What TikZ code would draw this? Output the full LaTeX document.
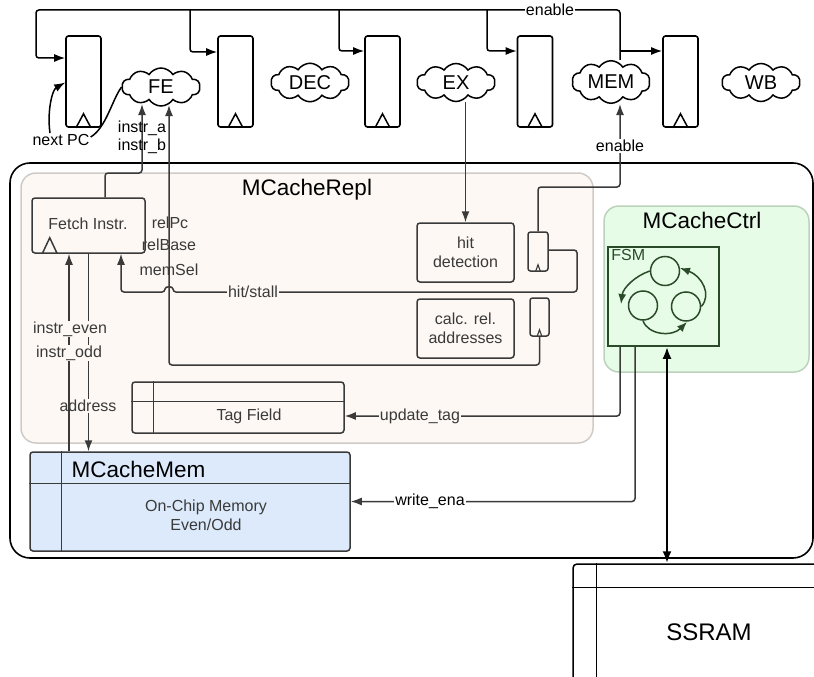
\documentclass[tikz,border=0pt]{standalone}
\usepackage{fontspec}
\setmainfont{Liberation Sans}
\usetikzlibrary{shapes.symbols,arrows.meta,calc}

\definecolor{ink}{HTML}{3A3A3A}
\definecolor{replfill}{HTML}{FDF8F3}
\definecolor{replline}{HTML}{CFCBC6}
\definecolor{ctrlfill}{HTML}{E6FCE6}
\definecolor{ctrlline}{HTML}{BCD2BC}
\definecolor{memfill}{HTML}{DCEAFB}
\definecolor{fsmgreen}{HTML}{2A4A2A}

\tikzset{
  arr/.style={-{Latex[length=11pt,width=8pt]}},
  pipereg/.style={draw, line width=1.6pt, rounded corners=2.5pt, minimum width=35pt,
    minimum height=91pt, inner sep=0pt, fill=white},
  stage/.style={cloud, cloud puffs=10, cloud puff arc=115, aspect=2, draw, line width=1.5pt,
    inner sep=0pt, minimum width=78pt, minimum height=38pt,
    font=\fontsize{20}{24}\selectfont, fill=white},
  wire/.style={line width=1.5pt, rounded corners=3pt},
  iwire/.style={wire, draw=ink},
  lbl/.style={font=\fontsize{16}{18}\selectfont, inner sep=1pt},
  ilbl/.style={lbl, text=ink},
  ttl/.style={font=\fontsize{22.5}{26}\selectfont},
  ibox/.style={draw=ink, line width=1.5pt, rounded corners=3pt, inner sep=0pt, align=center,
    font=\fontsize{16}{19.5}\selectfont, text=ink},
  smallreg/.style={draw=ink, line width=1.5pt, rounded corners=2.5pt, minimum width=20pt,
    minimum height=39pt, inner sep=0pt},
  fsmstate/.style={circle, draw=fsmgreen, line width=1.5pt, minimum size=29pt, inner sep=0pt},
  fsmarc/.style={draw=fsmgreen, line width=1.5pt, -{Latex[length=10pt,width=8pt]}},
}

\begin{document}
\begin{tikzpicture}[x=1pt,y=1pt]
\useasboundingbox (0,0) rectangle (814,-677);
\clip (0,0) rectangle (814,-677);

% ---------- containers ----------
\node[draw, line width=1.6pt, rounded corners=20pt, minimum width=803pt, minimum height=395pt,
  inner sep=0pt] (system) at (411.5,-360.5) {};
\node[draw=replline, fill=replfill, line width=1.5pt, rounded corners=15pt,
  minimum width=572pt, minimum height=270pt, inner sep=0pt] (repl) at (307,-308) {};
\node[ttl] (replT) at (307,-190) {MCacheRepl};
\node[draw=ctrlline, fill=ctrlfill, line width=1.5pt, rounded corners=15pt,
  minimum width=205pt, minimum height=166pt, inner sep=0pt] (ctrl) at (706.5,-289) {};
\node[ttl] (ctrlT) at (702,-220) {MCacheCtrl};

% ---------- pipeline registers and stages ----------
\foreach \n/\x in {reg1/83.5, reg2/235.5, reg3/382.5, reg4/535, reg5/680.5} {
  \node[pipereg] (\n) at (\x,-81.5) {};
  \draw[line width=1.5pt] ([xshift=-7.5pt]\n.south) -- ++(7.5,14) -- ++(7.5,-14);
}
\node[stage] (fe)  at (161,-87)   {FE};
\node[stage] (dec) at (310,-82.5) {DEC};
\node[stage] (ex)  at (456,-82.5) {EX};
\node[stage] (mem) at (611,-82)   {MEM};
\node[stage] (wb)  at (761,-82.5) {WB};

% enable bus across the top
\coordinate (busR) at (620,-10);
\coordinate (busL) at (36,-10);
\draw[wire, arr] ([xshift=9pt]mem.north) -- (busR) -- (busL) -- (36,-58) -- ([yshift=23.5pt]reg1.west);
\draw[wire, arr] (190,-10) |- ([yshift=29.5pt]reg2.west);
\draw[wire, arr] (339,-10) |- ([yshift=30.5pt]reg3.west);
\draw[wire, arr] (487,-10) |- ([yshift=30.5pt]reg4.west);
\draw[wire, arr] (620,-51) -- ([yshift=30.5pt]reg5.west);
\node[lbl, fill=white] at (550,-10) {enable};

% next PC feedback
\node[lbl] (nextpc) at (61,-140) {next PC};
\draw[line width=1.5pt] (fe.west) .. controls (112,-100) and (106,-128) .. ([yshift=3pt]nextpc.east);
\draw[line width=1.5pt, arr] ([xshift=-11pt]nextpc.north) .. controls (47,-112) and (52,-90) .. ([yshift=-1pt]reg1.west);

% ---------- MCacheRepl contents ----------
\node[ibox, minimum width=113pt, minimum height=55pt] (fetch) at (88.5,-225.5) {};
\node[ibox, draw=none] at (88,-224) {Fetch Instr.};
\draw[draw=ink, line width=1.5pt] ([xshift=11pt]fetch.south west) -- ++(7.5,16) -- ++(7.5,-16);

\node[ibox, minimum width=97pt, minimum height=59pt] (hitdet) at (465.5,-252.5) {hit\\detection};
\node[ibox, minimum width=97pt, minimum height=59pt] (calc) at (465.5,-328.5) {calc. rel.\\addresses};
\node[smallreg] (hitreg) at (538,-251.5) {};
\node[smallreg, minimum width=19pt, minimum height=38pt] (calcreg) at (539.5,-317) {};
\draw[draw=ink, line width=1.1pt] ([xshift=-2.5pt]hitreg.south) -- ++(2.5,7) -- ++(2.5,-7);
\draw[draw=ink, line width=1.1pt] ([xshift=-2.5pt]calcreg.south) -- ++(2.5,7) -- ++(2.5,-7);

\node[ibox, minimum width=212pt, minimum height=51pt] (tagfield) at (238,-407.5) {};
\draw[draw=ink, line width=1.5pt] ([yshift=-20pt]tagfield.north west) -- ([yshift=-20pt]tagfield.north east);
\draw[draw=ink, line width=1.5pt] ([xshift=22pt]tagfield.north west) -- ([xshift=22pt]tagfield.south west);
\node[ibox, draw=none] at (249,-416) {Tag Field};

% instructions to FE
\draw[iwire, arr] ([xshift=16.5pt]fetch.north) |- (142,-173) -- (142,-104);
\node[lbl] at (142,-128) {instr\_a};
\node[lbl] at (142,-146) {instr\_b};

% relative addresses to FE
\draw[iwire, arr] (calcreg.south) |- (169,-365) -- (169,-105);
\node[ilbl] at (170,-223) {relPc};
\node[ilbl] at (169,-245) {relBase};
\node[ilbl] at (169,-270) {memSel};

% hit detection
\draw[iwire, arr] (hitdet.north |- ex.south) -- (hitdet.north);
\draw[iwire, arr] (hitreg.east |- 0,-250) -- (577,-250) -- (577,-292) -- (173,-292)
  .. controls (173,-286) and (165,-286) .. (165,-292) -- (121,-292) -- ([xshift=32.5pt]fetch.south);
\node[ilbl, fill=replfill] at (253,-292) {hit/stall};
\draw[iwire, arr] (hitreg.north) |- (620,-187) -- (620,-104);
\node[lbl, fill=white] at (620,-146) {enable};

% ---------- MCacheMem ----------
\node[draw=ink, fill=memfill, line width=1.5pt, rounded corners=3pt, minimum width=320pt,
  minimum height=99pt, inner sep=0pt] (mcmem) at (190,-501.5) {};
\draw[draw=ink, line width=1.5pt] ([yshift=-32pt]mcmem.north west) -- ([yshift=-32pt]mcmem.north east);
\draw[draw=ink, line width=1.5pt] ([xshift=32pt]mcmem.north west) -- ([xshift=32pt]mcmem.south west);
\node[ttl, anchor=west] at (68,-469) {MCacheMem};
\node[ibox, draw=none] at (206,-515.5) {On-Chip Memory\\Even/Odd};

\draw[iwire, arr] (fetch.south) -- (fetch.south |- mcmem.north);
\node[ilbl, fill=replfill] at (88,-406) {address};
\draw[iwire, arr] ([xshift=-19.5pt]fetch.south |- mcmem.north) -- ([xshift=-19.5pt]fetch.south);
\node[ilbl, fill=replfill] at (70,-329) {instr\_even};
\node[ilbl, fill=replfill] at (69,-353) {instr\_odd};

% ---------- MCacheCtrl ----------
\node[draw=fsmgreen, line width=1.5pt, minimum width=111pt, minimum height=99pt, inner sep=0pt] (fsm) at (663.5,-296.5) {};
\node[lbl, text=fsmgreen, anchor=north west] at ([xshift=3pt,yshift=-2pt]fsm.north west) {FSM};
\node[fsmstate] (s1) at (665,-271) {};
\node[fsmstate] (s2) at (643,-305.5) {};
\node[fsmstate] (s3) at (686,-306.5) {};
\draw[fsmarc] (s1.west) .. controls (635,-276) and (623,-288) .. (621,-304);
\draw[fsmarc] (s2.south) .. controls (648,-335) and (672,-337) .. (687,-322);
\draw[fsmarc] (s3.east) .. controls (712,-295) and (702,-276) .. (680,-268);

\draw[iwire, arr] ([xshift=-43.5pt]fsm.south) |- ([yshift=-8.5pt]tagfield.east);
\node[ilbl, fill=replfill] at (420,-416) {update\_tag};
\draw[iwire, arr] ([xshift=-28.5pt]fsm.south) |- (mcmem.east);
\node[lbl, fill=white] at (430,-501) {write\_ena};

% ---------- external SSRAM ----------
\node[draw, line width=1.5pt, rounded corners=4pt, fill=white, minimum width=272pt,
  minimum height=136pt, inner sep=0pt, font=\fontsize{24}{28}\selectfont] (ssram) at (709,-632) {SSRAM};
\draw[line width=1.5pt] ([yshift=-24pt]ssram.north west) -- ([yshift=-24pt]ssram.north east);
\draw[line width=1.5pt] ([xshift=24pt]ssram.north west) -- ([xshift=24pt]ssram.south west);

\draw[line width=2.8pt, {Latex[length=12pt,width=9pt]}-{Latex[length=12pt,width=9pt]}]
  ([xshift=3.5pt]fsm.south) -- ([xshift=3.5pt]fsm.south |- ssram.north);
\end{tikzpicture}
\end{document}
